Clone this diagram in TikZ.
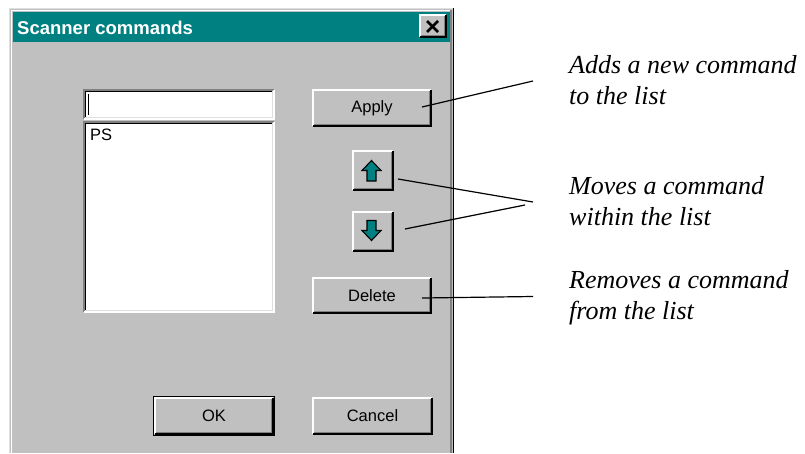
\documentclass[tikz,border=0pt]{standalone}
\usepackage{fontspec}
\setmainfont{Liberation Serif}
\setsansfont{Liberation Sans}
\definecolor{wgray}{HTML}{C0C0C0}
\definecolor{dgray}{HTML}{808080}
\definecolor{lgray}{HTML}{DFDFDF}
\definecolor{wteal}{HTML}{008080}
\tikzset{
  btn/.style={rectangle, fill=wgray, inner sep=0pt, text=black,
    font=\sffamily\fontsize{16.5}{18}\selectfont},
  field/.style={rectangle, fill=white, inner sep=0pt},
  bev/.style={line width=1.5pt},
  note/.style={font=\itshape\fontsize{26}{31}\selectfont, anchor=base west, inner sep=0pt},
  leader/.style={line width=1.2pt, black},
  arrowicon/.style={fill=wteal, draw=black, line width=1.1pt, line join=miter}
}
% raised Windows button: name, cx, cy, w, h, text
\newcommand\winbutton[6]{%
  \node[btn, minimum width=#4pt, minimum height=#5pt] (#1) at (#2,#3) {#6};
  \draw[bev, white] (#1.south west) -- (#1.north west) -- (#1.north east);
  \draw[bev, black] (#1.south west) -- (#1.south east) -- (#1.north east);
  \draw[bev, dgray] ([shift={(1.5pt,1.5pt)}]#1.south west) -- ([shift={(-1.5pt,1.5pt)}]#1.south east) -- ([shift={(-1.5pt,-1.5pt)}]#1.north east);
}
% sunken field: name, cx, cy, w, h
\newcommand\winfield[5]{%
  \node[field, minimum width=#4pt, minimum height=#5pt] (#1) at (#2,#3) {};
  \draw[bev, dgray] (#1.south west) -- (#1.north west) -- (#1.north east);
  \draw[bev, white] (#1.south west) -- (#1.south east) -- (#1.north east);
  \draw[bev, black] ([shift={(1.5pt,1.5pt)}]#1.south west) -- ([shift={(1.5pt,-1.5pt)}]#1.north west) -- ([shift={(-1.5pt,-1.5pt)}]#1.north east);
  \draw[bev, lgray] ([shift={(1.5pt,1.5pt)}]#1.south west) -- ([shift={(-1.5pt,1.5pt)}]#1.south east) -- ([shift={(-1.5pt,-1.5pt)}]#1.north east);
}
\begin{document}
\begin{tikzpicture}[x=1pt, y=-1pt]
\useasboundingbox (0,0) rectangle (805,453);
\fill[white] (0,0) rectangle (805,453);

% window
\fill[wgray] (9,8) rectangle (454,453);
\draw[bev, lgray] (9.5,453) -- (9.5,8.5) -- (453,8.5);
\draw[bev, white] (11.5,453) -- (11.5,10.5) -- (451,10.5);
\draw[bev, dgray] (451,10) -- (451,453);
\draw[bev, black] (453.5,8) -- (453.5,453);

% title bar
\fill[wteal] (13,12) rectangle (450,42);
\node[anchor=west, inner sep=0pt, text=white, font=\sffamily\bfseries\fontsize{18.5}{20}\selectfont] (title) at (17,27.5) {Scanner commands};
\node[btn, minimum width=26pt, minimum height=22pt] (close) at (433,26) {};
\draw[bev, white] (close.south west) -- (close.north west) -- (close.north east);
\draw[bev, black] (close.south west) -- (close.south east) -- (close.north east);
\draw[bev, dgray] ([shift={(1.5pt,1.5pt)}]close.south west) -- ([shift={(-1.5pt,1.5pt)}]close.south east) -- ([shift={(-1.5pt,-1.5pt)}]close.north east);
\draw[line width=2.6pt, black] ([shift={(-6pt,5pt)}]close.center) -- ([shift={(5pt,-6pt)}]close.center);
\draw[line width=2.6pt, black] ([shift={(-6pt,-6pt)}]close.center) -- ([shift={(5pt,5pt)}]close.center);

% edit field and list
\winfield{edit}{179}{104.5}{190}{29}
\draw[line width=1.2pt, black] ([shift={(5pt,-4pt)}]edit.north west) -- ([shift={(5pt,4pt)}]edit.south west);
\winfield{list}{179}{217}{190}{190}
\node[anchor=north west, inner sep=0pt, font=\sffamily\fontsize{16.5}{18}\selectfont] (ps) at (90,129) {PS};

% buttons
\winbutton{apply}{372}{108}{118}{36}{Apply}
\winbutton{up}{373}{170.5}{40}{39}{}
\winbutton{down}{373}{231.5}{40}{39}{}
\winbutton{delete}{372}{295.5}{118}{35}{Delete}
\winbutton{ok}{214}{416}{118}{36}{OK}
\draw[bev, black] ([shift={(-1.2pt,-1.2pt)}]ok.south west) rectangle ([shift={(1.2pt,1.2pt)}]ok.north east);
\winbutton{cancel}{372.5}{416}{119}{36}{Cancel}

% arrow icons
\begin{scope}[shift={(up.center)}]
  \draw[arrowicon] (-1.5,-10) -- (8,0) -- (3,0) -- (3,10.5) -- (-6,10.5) -- (-6,0) -- (-11,0) -- cycle;
\end{scope}
\begin{scope}[shift={(down.center)}]
  \draw[arrowicon] (-1.5,9) -- (8,-1) -- (3,-1) -- (3,-11) -- (-6,-11) -- (-6,-1) -- (-11,-1) -- cycle;
\end{scope}

% annotations
\node[note] (n1a) at (569,73) {Adds a new command};
\node[note] (n1b) at (569,104.5) {to the list};
\node[note] (n2a) at (569,194) {Moves a command};
\node[note] (n2b) at (569,225.5) {within the list};
\node[note] (n3a) at (569,288) {Removes a command};
\node[note] (n3b) at (569,319.5) {from the list};

% leader lines
\coordinate (a0) at (422,107);
\coordinate (a1) at (533,81);
\coordinate (u0) at (398,179);
\coordinate (u1) at (533,202);
\coordinate (d0) at (405,229);
\coordinate (d1) at (525,205);
\coordinate (r0) at (422,298);
\coordinate (r1) at (533,296.5);
\draw[leader] (a0) -- (a1);
\draw[leader] (u0) -- (u1);
\draw[leader] (d0) -- (d1);
\draw[leader] (r0) -- (r1);
\end{tikzpicture}
\end{document}
